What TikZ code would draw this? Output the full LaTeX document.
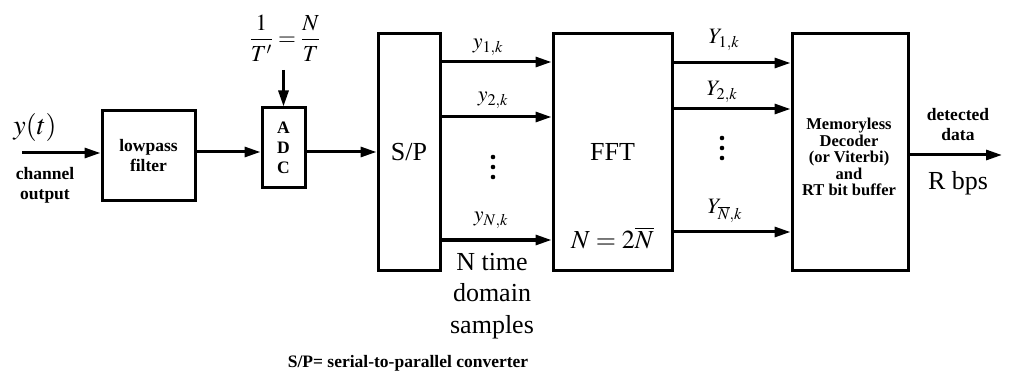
\documentclass[tikz,border=0pt]{standalone}
\usepackage{mathptmx}
\usepackage{fontspec}
\setmainfont{Liberation Serif}
\usetikzlibrary{arrows.meta}
\begin{document}
\begin{tikzpicture}[x=1pt,y=-1pt,
  blk/.style={draw, line width=3pt, inner sep=0pt},
  arr/.style={line width=3pt, -{Triangle[length=16pt,width=10pt]}},
  big/.style={font=\fontsize{26}{31.5}\selectfont, align=center, inner sep=0pt},
  sm/.style={font=\bfseries\fontsize{17.5}{20}\selectfont, align=center, inner sep=0pt},
  lbl/.style={font=\fontsize{22}{26}\selectfont, inner sep=0pt},
  dot/.style={fill=black, draw=none}]
\useasboundingbox (0,0) rectangle (1013,385);
% blocks
\node[blk, minimum width=93pt, minimum height=90pt, sm] (lp) at (148.5,156) {lowpass\\filter};
\node[blk, minimum width=43pt, minimum height=80pt, sm] (adc) at (283.5,148) {A\\D\\C};
\node[blk, minimum width=62pt, minimum height=236pt, big] (sp) at (409,152) {S/P};
\node[blk, minimum width=119pt, minimum height=236pt] (fft) at (612.5,152) {};
\node[blk, minimum width=116pt, minimum height=236pt] (dec) at (850,152) {};
% texts
\node[big] (ffttxt) at (612.5,152) {FFT};
\node[big] (nbar) at (612.5,238) {$N = 2\overline{N}$};
\node[font=\bfseries\fontsize{16.5}{16.5}\selectfont, align=center, inner sep=0pt] (dectxt) at (849,157)
  {Memoryless\\Decoder\\(or Viterbi)\\and\\RT bit buffer};
\node[font=\fontsize{28}{32}\selectfont, inner sep=0pt] (yt) at (35,128) {$y(t)$};
\node[sm] (chout) at (45,185) {channel\\output};
\node[font=\fontsize{23}{26}\selectfont, inner sep=0pt] (frac) at (285,38) {$\displaystyle\frac{1}{T'}=\frac{N}{T}$};
\node[big] (ntime) at (492,296) {N time\\domain\\samples};
\node[sm] (det) at (958,125) {detected\\data};
\node[big] (rbps) at (958,183) {R bps};
\node[sm] (cap) at (408,363) {S/P= serial-to-parallel converter};
% coordinates
\coordinate (in) at (22,153);
\coordinate (tin) at (283.5,70);
\coordinate (out) at (1002,155);
\coordinate (a1) at (0,62);
\coordinate (a2) at (0,117);
\coordinate (a3) at (0,240);
\coordinate (b1) at (0,63);
\coordinate (b2) at (0,109);
\coordinate (b3) at (0,232);
% connectors
\draw[arr] (in) -- (in -| lp.west);
\draw[arr] (lp.east |- sp.west) -- (adc.west |- sp.west);
\draw[arr] (adc.east |- sp.west) -- (sp.west);
\draw[arr] (tin) -- (adc.north);
\draw[arr] (sp.east |- a1) -- (fft.west |- a1);
\draw[arr] (sp.east |- a2) -- (fft.west |- a2);
\draw[arr] (sp.east |- a3) -- (fft.west |- a3);
\draw[arr] (fft.east |- b1) -- (dec.west |- b1);
\draw[arr] (fft.east |- b2) -- (dec.west |- b2);
\draw[arr] (fft.east |- b3) -- (dec.west |- b3);
\draw[arr] (dec.east |- out) -- (out);
% arrow labels
\node[lbl] (l1) at (488,47) {$y_{1,k}$};
\node[lbl] (l2) at (493,100) {$y_{2,k}$};
\node[lbl] (l3) at (491,220) {$y_{N,k}$};
\node[lbl] (r1) at (724,40) {$Y_{1,k}$};
\node[lbl] (r2) at (722,92) {$Y_{2,k}$};
\node[lbl] (r3) at (725,211) {$Y_{\overline{N},k}$};
% vertical dots
\foreach \yy in {157,167,177} \fill[dot] (493,\yy) circle (2.3pt);
\foreach \yy in {138,148,158} \fill[dot] (722,\yy) circle (2.3pt);
\end{tikzpicture}
\end{document}
